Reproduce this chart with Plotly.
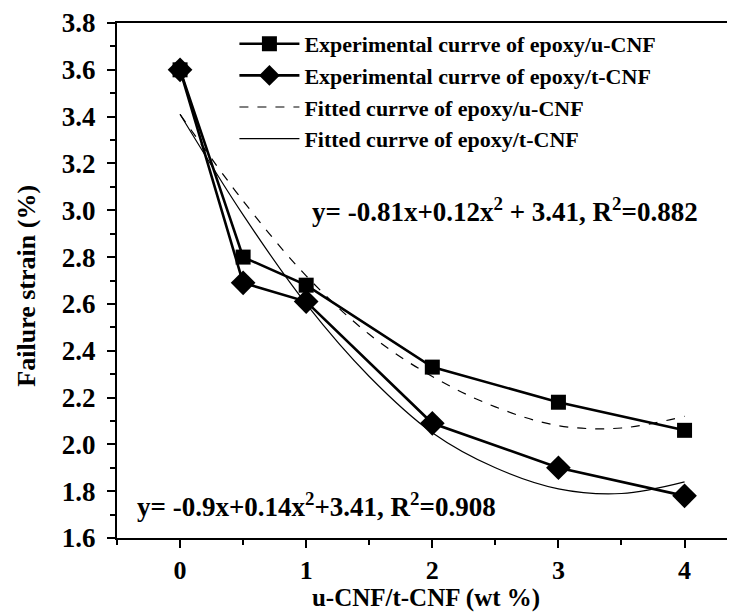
import plotly.graph_objects as go

# ---- data ----
x_exp = [0, 0.5, 1, 2, 3, 4]
u_exp = [3.60, 2.80, 2.68, 2.33, 2.18, 2.06]
t_exp = [3.60, 2.69, 2.61, 2.09, 1.90, 1.78]

x_fit = [0, 0.5, 1, 1.5, 2, 2.5, 3, 3.5, 4]
u_fit = [3.41, 3.04, 2.72, 2.47, 2.29, 2.16, 2.08, 2.07, 2.12]
t_fit = [3.41, 2.98, 2.60, 2.29, 2.05, 1.90, 1.81, 1.79, 1.84]

names = [
    "Experimental currve of epoxy/u-CNF",
    "Experimental currve of epoxy/t-CNF",
    "Fitted currve of epoxy/u-CNF",
    "Fitted currve of epoxy/t-CNF",
]
eq_u = "y= -0.81x+0.12x<sup>2</sup> + 3.41, R<sup>2</sup>=0.882"
eq_t = "y= -0.9x+0.14x<sup>2</sup>+3.41, R<sup>2</sup>=0.908"

x_ticks = [0, 1, 2, 3, 4]
y_ticks = [1.6, 1.8, 2.0, 2.2, 2.4, 2.6, 2.8, 3.0, 3.2, 3.4, 3.6, 3.8]

x_title = "u-CNF/t-CNF (wt %)"
y_title = "Failure strain (%)"

FONT = "Liberation Serif, Times New Roman, serif"

# page body has an 8px margin: figure is drawn from (8, 8)
W, H = 727, 604
ML, MT, MB = 109, 15, 74
PW = W - ML


def b(s):
    return "<b>" + s + "</b>"


fig = go.Figure()
fig.add_trace(go.Scatter(x=x_exp, y=u_exp, name=b(names[0]), mode="lines+markers",
                         line=dict(color="black", width=2.6),
                         marker=dict(symbol="square", size=15, color="black")))
fig.add_trace(go.Scatter(x=x_exp, y=t_exp, name=b(names[1]), mode="lines+markers",
                         line=dict(color="black", width=2.6),
                         marker=dict(symbol="diamond", size=19, color="black")))
fig.add_trace(go.Scatter(x=x_fit, y=u_fit, name=b(names[2]), mode="lines",
                         line=dict(color="black", width=1.2, dash="dash", shape="spline")))
fig.add_trace(go.Scatter(x=x_fit, y=t_fit, name=b(names[3]), mode="lines",
                         line=dict(color="black", width=1.2, shape="spline")))

fig.add_annotation(x=1.03, y=3.0, xref="x", yref="y", text=b(eq_u), showarrow=False,
                   xanchor="left", yanchor="middle",
                   font=dict(family=FONT, size=27, color="black"))
fig.add_annotation(x=-0.36, y=1.74, xref="x", yref="y", text=b(eq_t), showarrow=False,
                   xanchor="left", yanchor="middle",
                   font=dict(family=FONT, size=27, color="black"))

# y-axis title as a rotated annotation so the plot area stays fixed
fig.add_annotation(x=(19 - ML) / PW, y=0.49, xref="paper", yref="paper", text=b(y_title),
                   showarrow=False, textangle=-90, xanchor="center", yanchor="middle",
                   font=dict(family=FONT, size=26, color="black"))

fig.update_layout(
    width=W, height=H,
    margin=dict(l=ML, r=0, t=MT, b=MB, pad=0),
    paper_bgcolor="white", plot_bgcolor="white",
    font=dict(family=FONT, size=22, color="black"),
    showlegend=True,
    legend=dict(x=0.19, y=1.0, xanchor="left", yanchor="top",
                bgcolor="rgba(0,0,0,0)", itemwidth=60, tracegroupgap=0,
                font=dict(family=FONT, size=22, color="black")),
)

fig.update_xaxes(
    range=[-0.5, 4.4], tickvals=x_ticks, ticktext=[b(str(v)) for v in x_ticks],
    automargin=False,
    showgrid=False, zeroline=False, showline=True, linecolor="black", linewidth=2,
    mirror=True, ticks="outside", ticklen=8, tickwidth=2, tickcolor="black",
    minor=dict(dtick=0.5, tick0=0, ticks="outside", ticklen=5, tickwidth=2, tickcolor="black"),
    tickfont=dict(family=FONT, size=26, color="black"),
    title=dict(text=b(x_title), standoff=0,
               font=dict(family=FONT, size=25, color="black")),
)
fig.update_yaxes(
    range=[1.6, 3.8], tickvals=y_ticks, ticktext=[b(f"{v:.1f}") for v in y_ticks],
    automargin=False,
    showgrid=False, zeroline=False, showline=True, linecolor="black", linewidth=2,
    mirror=False, ticks="outside", ticklen=8, tickwidth=2, tickcolor="black",
    minor=dict(dtick=0.1, tick0=1.6, ticks="outside", ticklen=5, tickwidth=2, tickcolor="black"),
    tickfont=dict(family=FONT, size=27, color="black"),
    ticklabelstandoff=6,
)

fig.write_html("out.html")
